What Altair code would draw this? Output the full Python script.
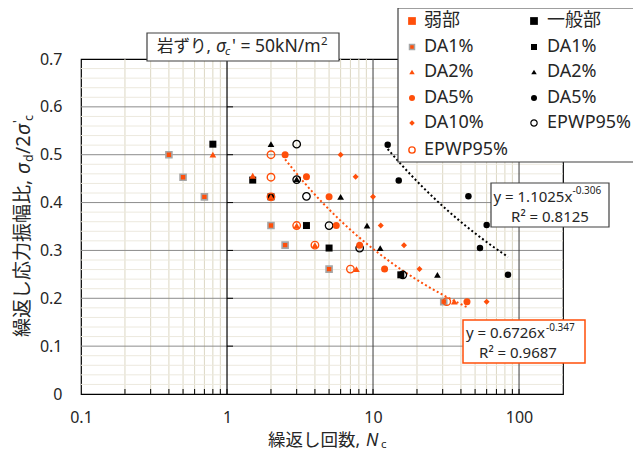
import altair as alt
import pandas as pd

FONT = "'Noto Sans', 'Noto Sans CJK JP', sans-serif"
ORANGE = "#FF4F0A"
TXT = "#262626"

# ---------------- data ----------------
# 弱部 (weak part)
weak_da1_n = [0.4, 0.5, 0.7, 2.0, 2.5, 5.0, 30.5]
weak_da1_r = [0.500, 0.453, 0.412, 0.352, 0.311, 0.261, 0.193]
weak_da2_n = [0.8, 1.5, 2.0, 3.0, 4.0, 7.7, 36.0]
weak_da2_r = [0.500, 0.456, 0.412, 0.352, 0.311, 0.261, 0.193]
weak_da5_n = [2.5, 3.5, 5.0, 5.6, 8.1, 12.0, 44.0]
weak_da5_r = [0.500, 0.454, 0.412, 0.352, 0.311, 0.261, 0.193]
weak_da10_n = [6.0, 7.6, 10.0, 11.3, 16.3, 20.8, 60.0]
weak_da10_r = [0.500, 0.454, 0.412, 0.352, 0.311, 0.261, 0.193]
weak_ep_n = [2.0, 2.0, 2.0, 3.0, 4.0, 7.0, 32.0]
weak_ep_r = [0.500, 0.453, 0.412, 0.352, 0.311, 0.261, 0.193]

# 一般部 (general part)
gen_da1_n = [0.8, 1.5, 2.0, 3.5, 5.0, 15.5]
gen_da1_r = [0.522, 0.447, 0.412, 0.352, 0.305, 0.249]
gen_da2_n = [2.0, 3.0, 6.0, 9.1, 11.2, 27.6]
gen_da2_r = [0.522, 0.449, 0.412, 0.352, 0.305, 0.249]
gen_da5_n = [12.6, 15.0, 45.0, 60.0, 54.0, 84.0]
gen_da5_r = [0.521, 0.446, 0.413, 0.353, 0.305, 0.249]
gen_ep_n = [3.0, 3.0, 3.5, 5.0, 8.1, 16.0]
gen_ep_r = [0.522, 0.448, 0.413, 0.352, 0.305, 0.249]

# axis ticks / gridlines
x_labels = [0.1, 1, 10, 100]
y_labels = [0, 0.1, 0.2, 0.3, 0.4, 0.5, 0.6, 0.7]
x_minor = [0.2, 0.3, 0.4, 0.5, 0.6, 0.7, 0.8, 0.9,
           2, 3, 4, 5, 6, 7, 8, 9,
           20, 30, 40, 50, 60, 70, 80, 90]
x_major = [10, 100]
x_axis_at = [1]
x_ticks = x_minor + [1, 10, 100]
y_major = [0.1, 0.2, 0.3, 0.4, 0.5, 0.6]
y_minor = [0.02, 0.04, 0.06, 0.08, 0.12, 0.14, 0.16, 0.18,
           0.22, 0.24, 0.26, 0.28, 0.32, 0.34, 0.36, 0.38,
           0.42, 0.44, 0.46, 0.48, 0.52, 0.54, 0.56, 0.58,
           0.62, 0.64, 0.66, 0.68]
y_ticks = [0.1, 0.2, 0.3, 0.4, 0.5, 0.6, 0.7]

series = {
    "w_da1": (weak_da1_n, weak_da1_r), "w_da2": (weak_da2_n, weak_da2_r),
    "w_da5": (weak_da5_n, weak_da5_r), "w_da10": (weak_da10_n, weak_da10_r),
    "w_ep": (weak_ep_n, weak_ep_r),
    "g_da1": (gen_da1_n, gen_da1_r), "g_da2": (gen_da2_n, gen_da2_r),
    "g_da5": (gen_da5_n, gen_da5_r), "g_ep": (gen_ep_n, gen_ep_r),
}
rows = []
for k, (ns, rs) in series.items():
    for n, r in zip(ns, rs):
        rows.append({"s": k, "N": n, "ratio": r})
df = pd.DataFrame(rows)
one = pd.DataFrame({"k": [0]})

XS = alt.Scale(type="log", domain=[0.1, 200], nice=False)
YS = alt.Scale(domain=[0, 0.7], nice=False, zero=False)

XAXIS = alt.Axis(values=x_labels, format="~g", labelFontSize=16, labelFont=FONT, labelColor=TXT,
                 labelPadding=15, ticks=False, tickSize=0, domain=False, grid=False, title=None,
                 labelFlush=False, labelOverlap=False)
YAXIS = alt.Axis(values=y_labels, format="~g", labelFontSize=16, labelFont=FONT, labelColor=TXT,
                 labelPadding=19, ticks=False, tickSize=0, domain=False, grid=False, title=None,
                 labelFlush=False, labelOverlap=False)


def X(f):
    return alt.X(f, type="quantitative", scale=XS, axis=XAXIS)


def Y(f):
    return alt.Y(f, type="quantitative", scale=YS, axis=YAXIS)


layers = []

# gridlines
layers.append(alt.Chart(pd.DataFrame({"v": x_minor})).mark_rule(color="#DCD7C3", strokeWidth=1).encode(x=X("v")))
layers.append(alt.Chart(pd.DataFrame({"v": y_minor})).mark_rule(color="#ECE9DE", strokeWidth=1).encode(y=Y("v")))
layers.append(alt.Chart(pd.DataFrame({"v": y_major})).mark_rule(color="#8C8C8C", strokeWidth=1).encode(y=Y("v")))
layers.append(alt.Chart(pd.DataFrame({"v": x_major})).mark_rule(color="#3A3A3A", strokeWidth=1).encode(x=X("v")))
# y-axis line crossing at N = 1, with its ticks (pointing right)
layers.append(alt.Chart(pd.DataFrame({"v": x_axis_at})).mark_rule(color="black", strokeWidth=1.2).encode(x=X("v")))
layers.append(alt.Chart(pd.DataFrame({"v": y_ticks})).mark_rule(color="black", strokeWidth=1).encode(
    y=Y("v"), x=alt.value(146), x2=alt.value(152)))
# x-axis ticks (inside)
layers.append(alt.Chart(pd.DataFrame({"v": x_ticks})).mark_rule(color="black", strokeWidth=1).encode(
    x=X("v"), y=alt.value(335), y2=alt.value(330)))

# power trend lines (fitted by Vega-Lite)
for key, col in [("w_da5", ORANGE), ("g_da5", "black")]:
    layers.append(alt.Chart(df).transform_filter(alt.datum.s == key)
                  .transform_regression("N", "ratio", method="pow")
                  .mark_line(color=col, strokeDash=[2, 2.5], strokeWidth=2)
                  .encode(x=X("N"), y=Y("ratio")))


def pts(key, **mk):
    return alt.Chart(df).transform_filter(alt.datum.s == key).mark_point(opacity=1, **mk).encode(
        x=X("N"), y=Y("ratio"))


# 一般部 first, 弱部 on top
layers.append(pts("g_da1", shape="square", filled=True, color="black", size=49))
layers.append(pts("g_da2", shape="triangle-up", filled=True, color="black", size=45))
layers.append(pts("g_da5", shape="circle", filled=True, color="black", size=42))
layers.append(pts("g_ep", shape="circle", filled=False, color="black", size=56, strokeWidth=1.3))
layers.append(pts("w_da1", shape="square", filled=True, fill=ORANGE, stroke="#A6A6A6", strokeWidth=1.6, size=36))
layers.append(pts("w_da2", shape="triangle-up", filled=True, color=ORANGE, size=45))
layers.append(pts("w_da5", shape="circle", filled=True, color=ORANGE, size=49))
layers.append(pts("w_da10", shape="diamond", filled=True, color=ORANGE, size=36))
layers.append(pts("w_ep", shape="circle", filled=False, color=ORANGE, size=56, strokeWidth=1.4))


def box(x1, x2, y1, y2, stroke, sw=1.0):
    return alt.Chart(one).mark_rect(fill="white", stroke=stroke, strokeWidth=sw).encode(
        x=alt.value(x1), x2=alt.value(x2), y=alt.value(y1), y2=alt.value(y2))


def txt(s, x, y, size, align="left", angle=None, **kw):
    props = dict(text=s, font=FONT, fontSize=size, align=align, baseline="middle", color=TXT)
    if angle is not None:
        props["angle"] = angle
    props.update(kw)
    return alt.Chart(one).mark_text(**props).encode(x=alt.value(x), y=alt.value(y))


def sym(x, y, **mk):
    return alt.Chart(one).mark_point(opacity=1, **mk).encode(x=alt.value(x), y=alt.value(y))


# regression annotation boxes
layers.append(box(410, 528, 124, 168, "#404040", 1.2))
layers.append(txt("y = 1.1025x", 412.5, 137.5, 15))
layers.append(txt("-0.306", 491.5, 132, 10))
layers.append(txt("R² = 0.8125", 469, 157.5, 15, align="center"))

layers.append(box(382, 504, 261, 304, ORANGE, 1.5))
layers.append(txt("y = 0.6726x", 385, 274, 15))
layers.append(txt("-0.347", 465, 269, 10))
layers.append(txt("R² = 0.9687", 437, 294, 15, align="center"))

# title box
layers.append(box(66, 258, -26, 2, "#404040", 1.2))
layers.append(txt("岩ずり,", 76, -12, 16.5))
layers.append(txt("σ", 135, -12, 17.5, fontStyle="italic"))
layers.append(txt("c", 144, -7, 11.5, fontStyle="italic"))
layers.append(txt("' = 50kN/m", 151, -12, 17.5))
layers.append(txt("2", 240, -17, 11.5))

# legend
layers.append(box(317, 562, -51, 103, "#404040", 1.2))
ly = [-38, -12, 13, 39, 64, 91]
lx_s, lx_t, rx_s, rx_t = 331, 343, 453, 466
layers.append(sym(lx_s, ly[0], shape="square", filled=True, color=ORANGE, size=60))
layers.append(sym(lx_s, ly[1], shape="square", filled=True, fill=ORANGE, stroke="#A6A6A6", strokeWidth=1.5, size=25))
layers.append(sym(lx_s, ly[2], shape="triangle-up", filled=True, color=ORANGE, size=30))
layers.append(sym(lx_s, ly[3], shape="circle", filled=True, color=ORANGE, size=36))
layers.append(sym(lx_s, ly[4], shape="diamond", filled=True, color=ORANGE, size=30))
layers.append(sym(lx_s, ly[5], shape="circle", filled=False, color=ORANGE, size=40, strokeWidth=1.4))
layers.append(sym(rx_s, ly[0], shape="square", filled=True, color="black", size=60))
layers.append(sym(rx_s, ly[1], shape="square", filled=True, color="black", size=36))
layers.append(sym(rx_s, ly[2], shape="triangle-up", filled=True, color="black", size=30))
layers.append(sym(rx_s, ly[3], shape="circle", filled=True, color="black", size=36))
layers.append(sym(rx_s, ly[4], shape="circle", filled=False, color="black", size=40, strokeWidth=1.2))
for i, s in enumerate(["弱部", "DA1%", "DA2%", "DA5%", "DA10%", "EPWP95%"]):
    layers.append(txt(s, lx_t, ly[i], 18))
for i, s in enumerate(["一般部", "DA1%", "DA2%", "DA5%", "EPWP95%"]):
    layers.append(txt(s, rx_t, ly[i], 18))

# x axis title
layers.append(txt("繰返し回数,", 187, 382, 17.5))
layers.append(txt("N", 285, 382, 17.5, fontStyle="italic"))
layers.append(txt("c", 300, 385.5, 11.5))

# y axis title (rotated)
layers.append(txt("繰返し応力振幅比,", -58, 278, 19, angle=270))
layers.append(txt("σ", -57, 115, 19.5, angle=270, fontStyle="italic"))
layers.append(txt("d", -52, 103, 12.5, angle=270))
layers.append(txt("/2", -57, 95, 19.5, angle=270))
layers.append(txt("σ", -57, 76, 19.5, angle=270, fontStyle="italic"))
layers.append(txt("'", -63, 64, 13, angle=270))
layers.append(txt("c", -52, 62, 12.5, angle=270))

chart = alt.layer(*layers).properties(
    width=482, height=335,
    padding={"left": 73, "top": 51, "right": 70, "bottom": 57},
    autosize=alt.AutoSizeParams(type="none"),
    background="white",
).configure_view(stroke="black", strokeWidth=1.2)

chart.save("out.html", embed_options={"renderer": "svg", "actions": False})
